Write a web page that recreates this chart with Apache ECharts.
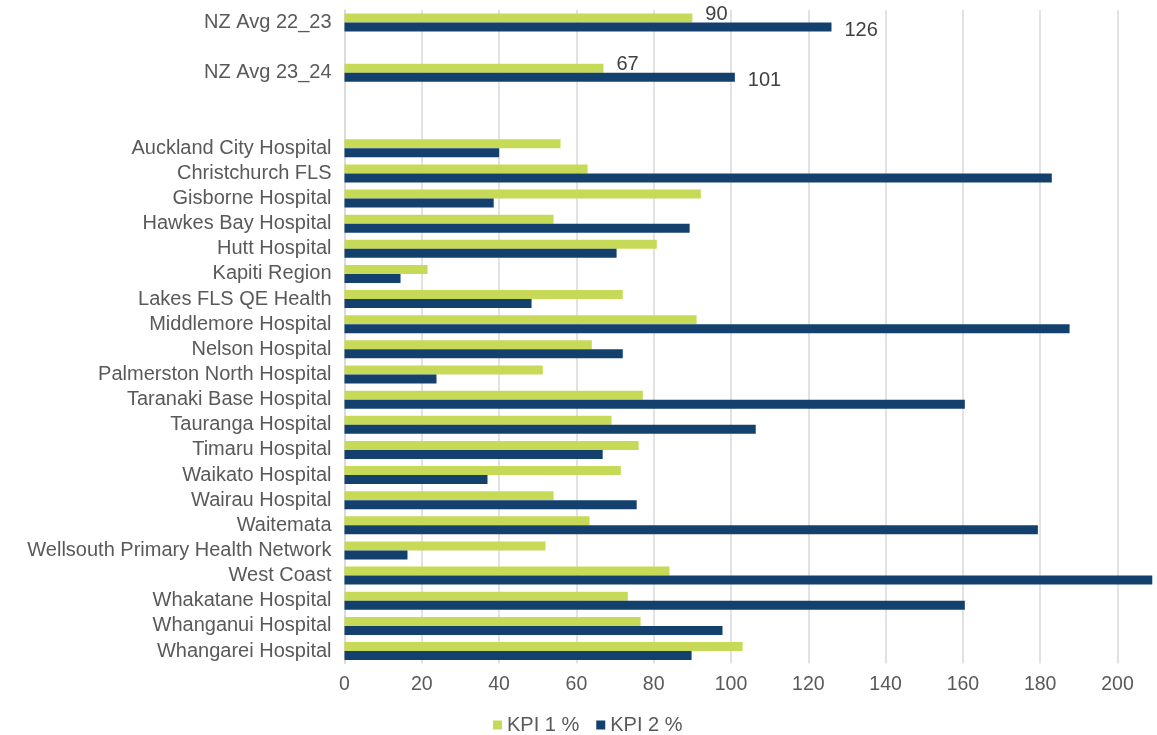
<!DOCTYPE html>
<html>
<head>
<meta charset="utf-8">
<script src="https://cdn.jsdelivr.net/npm/echarts@6/dist/echarts.min.js"></script>
<style>
html,body{margin:0;padding:0;background:#fff;overflow:hidden;width:1157px;height:735px;}
#chart{width:1157px;height:735px;}
</style>
</head>
<body>
<div id="chart"></div>
<script>
const categories = [
  'NZ Avg 22_23', ' ', 'NZ Avg 23_24', '  ', '   ',
  'Auckland City Hospital', 'Christchurch FLS', 'Gisborne Hospital', 'Hawkes Bay Hospital',
  'Hutt Hospital', 'Kapiti Region', 'Lakes FLS QE Health', 'Middlemore Hospital',
  'Nelson Hospital', 'Palmerston North Hospital', 'Taranaki Base Hospital', 'Tauranga Hospital',
  'Timaru Hospital', 'Waikato Hospital', 'Wairau Hospital', 'Waitemata',
  'Wellsouth Primary Health Network', 'West Coast', 'Whakatane Hospital', 'Whanganui Hospital',
  'Whangarei Hospital'
];
const kpi1 = [
  90, null, 67, null, null,
  55.9, 62.9, 92.2, 54.1, 80.8, 21.5, 72.0, 91.1, 64.0, 51.3,
  77.2, 69.1, 76.1, 71.5, 54.1, 63.4, 52.0, 84.1, 73.3, 76.6, 103.0
];
const kpi2 = [
  126, null, 101, null, null,
  40.0, 183.0, 38.6, 89.3, 70.4, 14.5, 48.4, 187.6, 72.0, 23.8,
  160.5, 106.4, 66.8, 37.0, 75.6, 179.4, 16.3, 209.0, 160.5, 97.8, 89.8
];
const seriesNames = ['KPI 1 %', 'KPI 2 %'];
const labelledCategories = ['NZ Avg 22_23', 'NZ Avg 23_24'];
const xTicks = { min: 0, max: 220, interval: 20 };

const FONT = "'Liberation Sans', Arial, sans-serif";
const GREEN = '#c7da58';
const NAVY = '#14406e';

function buildData(values) {
  return values.map((v, i) => {
    if (labelledCategories.indexOf(categories[i]) >= 0) {
      return { value: v, label: { show: true } };
    }
    return v;
  });
}

const chart = echarts.init(document.getElementById('chart'), null, { renderer: 'canvas' });
chart.setOption({
  animation: false,
  backgroundColor: '#ffffff',
  textStyle: { fontFamily: FONT },
  grid: { left: 344.5, top: 10, bottom: 71.4, width: 850.3, containLabel: false, outerBoundsMode: 'none' },
  legend: {
    data: seriesNames,
    left: 488,
    top: 710,
    icon: 'rect',
    itemWidth: 9,
    itemHeight: 9,
    itemGap: 17,
    textStyle: { fontFamily: FONT, fontSize: 20, color: '#595959' }
  },
  xAxis: {
    type: 'value',
    min: xTicks.min,
    max: xTicks.max,
    interval: xTicks.interval,
    axisLine: { show: false },
    axisTick: { show: false },
    splitLine: { show: true, lineStyle: { color: '#d9d9d9', width: 1.5 } },
    axisLabel: { fontFamily: FONT, fontSize: 19.5, color: '#595959', margin: 11 }
  },
  yAxis: {
    type: 'category',
    inverse: true,
    data: categories,
    axisLine: { show: true, lineStyle: { color: '#d9d9d9', width: 1.5 } },
    axisTick: { show: false },
    splitLine: { show: false },
    axisLabel: { fontFamily: FONT, fontSize: 20, color: '#595959', margin: 13, interval: 0 }
  },
  series: [
    {
      name: seriesNames[0],
      type: 'bar',
      data: buildData(kpi1),
      barWidth: 9,
      barGap: '0%',
      itemStyle: { color: GREEN },
      label: { show: false, position: 'right', distance: 13, offset: [0, -4],
               fontFamily: FONT, fontSize: 20, color: '#404040' }
    },
    {
      name: seriesNames[1],
      type: 'bar',
      data: buildData(kpi2),
      barWidth: 9,
      barGap: '0%',
      itemStyle: { color: NAVY },
      label: { show: false, position: 'right', distance: 13, offset: [0, 3],
               fontFamily: FONT, fontSize: 20, color: '#404040' }
    }
  ]
});
</script>
</body>
</html>
